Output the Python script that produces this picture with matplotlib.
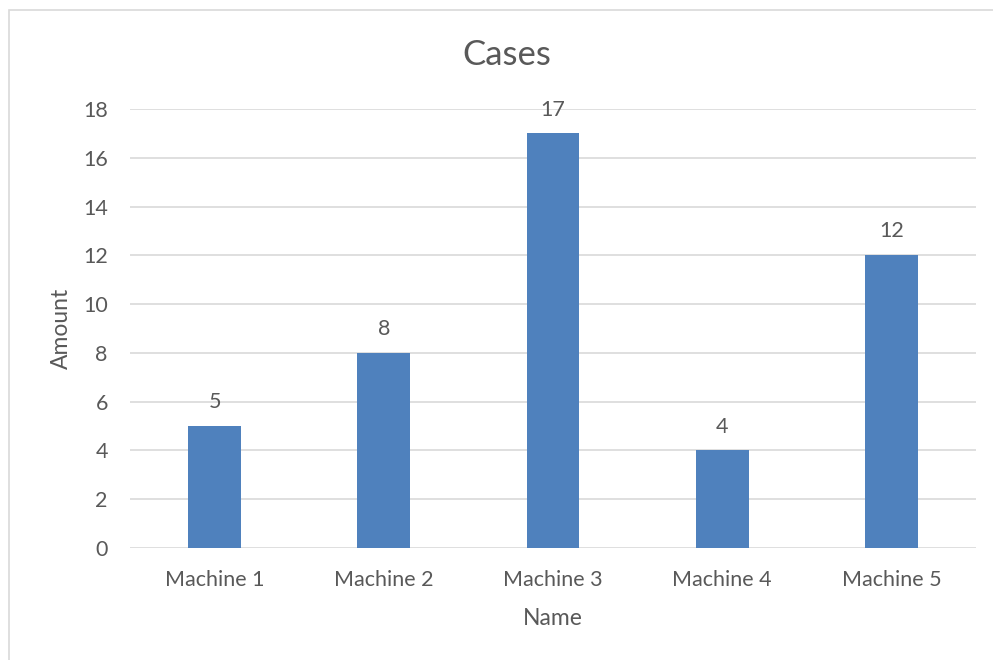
import matplotlib.pyplot as plt
from matplotlib.patches import Rectangle

machines = ['Machine 1', 'Machine 2', 'Machine 3', 'Machine 4', 'Machine 5']
cases = [5, 8, 17, 4, 12]
y_ticks = [0, 2, 4, 6, 8, 10, 12, 14, 16, 18]

BAR_COLOR = '#4F81BD'
TEXT_COLOR = '#595959'
GRID_COLOR = '#D9D9D9'

plt.rcParams['font.family'] = ['Lato', 'DejaVu Sans']

W, H = 993, 660
fig = plt.figure(figsize=(W / 100, H / 100), dpi=100)

# chart area frame (only left/top edges fall inside the picture)
fig.patches.append(Rectangle((9 / W, -0.1), 1.2, 1 - 10 / H + 0.1,
                             transform=fig.transFigure, fill=False,
                             edgecolor=GRID_COLOR, linewidth=1.2))

ax = fig.add_axes([130 / W, (H - 548) / H, 846 / W, (548 - 109) / H])

x = range(len(machines))
bars = ax.bar(x, cases, width=0.313, color=BAR_COLOR, zorder=3)
ax.bar_label(bars, padding=10, fontsize=15.5, color=TEXT_COLOR)

ax.set_xlim(-0.5, len(machines) - 0.5)
ax.set_ylim(0, 18)
ax.set_yticks(y_ticks)
ax.set_xticks(list(x))
ax.set_xticklabels(machines)
ax.tick_params(axis='both', length=0, labelsize=15.5, labelcolor=TEXT_COLOR)
ax.tick_params(axis='x', pad=16)
ax.tick_params(axis='y', pad=16)
ax.grid(axis='y', color=GRID_COLOR, linewidth=1.2, zorder=0)
for side in ['top', 'right', 'left', 'bottom']:
    ax.spines[side].set_visible(False)

ax.set_xlabel('Name', fontsize=16.5, color=TEXT_COLOR, labelpad=13)
ax.set_ylabel('Amount', fontsize=16.5, color=TEXT_COLOR, labelpad=8)

fig.text(507 / W, 1 - 55 / H, 'Cases', fontsize=25, color=TEXT_COLOR,
         ha='center', va='center')

fig.savefig('out.png', dpi=100)
